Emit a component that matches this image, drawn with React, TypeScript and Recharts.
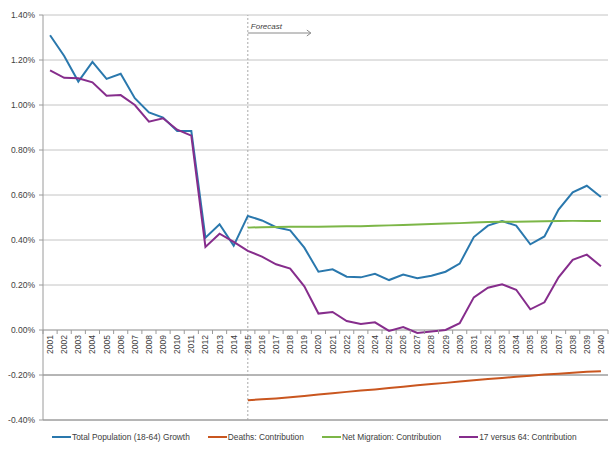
import React from 'react';
import { LineChart, Line, XAxis, YAxis, CartesianGrid, ReferenceLine } from 'recharts';

const YEARS = [
  '2001', '2002', '2003', '2004', '2005', '2006', '2007', '2008', '2009', '2010',
  '2011', '2012', '2013', '2014', '2015', '2016', '2017', '2018', '2019', '2020',
  '2021', '2022', '2023', '2024', '2025', '2026', '2027', '2028', '2029', '2030',
  '2031', '2032', '2033', '2034', '2035', '2036', '2037', '2038', '2039', '2040',
];

// % values
const TOTAL = [
  1.31, 1.218, 1.104, 1.192, 1.116, 1.139, 1.03, 0.967, 0.944, 0.884,
  0.884, 0.41, 0.47, 0.375, 0.507, 0.487, 0.457, 0.443, 0.366, 0.259,
  0.27, 0.237, 0.234, 0.25, 0.222, 0.246, 0.23, 0.241, 0.259, 0.295,
  0.413, 0.464, 0.484, 0.464, 0.381, 0.416, 0.535, 0.612, 0.641, 0.591,
];

const RATIO = [
  1.154, 1.121, 1.119, 1.101, 1.041, 1.044, 1.0, 0.926, 0.941, 0.89,
  0.864, 0.369, 0.428, 0.392, 0.352, 0.326, 0.292, 0.273, 0.194, 0.073,
  0.08, 0.04, 0.027, 0.034, -0.004, 0.013, -0.013, -0.007, 0.0, 0.03,
  0.145, 0.188, 0.203, 0.179, 0.092, 0.123, 0.234, 0.312, 0.335, 0.283,
];

// forecast-only series, 2015..2040
const MIGRATION = [
  0.455, 0.457, 0.458, 0.459, 0.459, 0.459, 0.46, 0.461, 0.461, 0.463,
  0.465, 0.467, 0.469, 0.471, 0.473, 0.475, 0.478, 0.48, 0.481, 0.481,
  0.482, 0.483, 0.484, 0.485, 0.485, 0.485,
];

const DEATHS = [
  -0.312, -0.308, -0.304, -0.299, -0.293, -0.287, -0.281, -0.275, -0.269, -0.264,
  -0.258, -0.252, -0.246, -0.24, -0.235, -0.229, -0.223, -0.218, -0.213, -0.208,
  -0.203, -0.198, -0.194, -0.19, -0.186, -0.183,
];

const Y_TICKS = [-0.4, -0.2, 0, 0.2, 0.4, 0.6, 0.8, 1.0, 1.2, 1.4];
const FORECAST_YEAR = '2015';

const SERIES = [
  { key: 'total', name: 'Total Population (18-64) Growth', color: '#2a78ad' },
  { key: 'deaths', name: 'Deaths: Contribution', color: '#c9561f' },
  { key: 'migration', name: 'Net Migration: Contribution', color: '#7cb647' },
  { key: 'ratio', name: '17 versus 64: Contribution', color: '#862d8c' },
];

const W = 609;
const H = 450;
const M = { top: 15, right: 1, bottom: 0, left: 0 };
const Y_AXIS_W = 43;
const X_AXIS_H = 30;
const PLOT_H = H - M.top - M.bottom - X_AXIS_H;
const PLOT_W = W - M.left - M.right - Y_AXIS_W;
const BAND = PLOT_W / YEARS.length;
const Y_MIN = -0.4;
const Y_MAX = 1.4;
const ZERO_Y = M.top + (PLOT_H * Y_MAX) / (Y_MAX - Y_MIN);

const FONT = '"Liberation Sans", Arial, sans-serif';

const forecastStart = YEARS.indexOf(FORECAST_YEAR);
const data = YEARS.map((year, i) => ({
  year,
  total: TOTAL[i],
  ratio: RATIO[i],
  migration: i >= forecastStart ? MIGRATION[i - forecastStart] : null,
  deaths: i >= forecastStart ? DEATHS[i - forecastStart] : null,
}));

const YearTick = (props: any) => {
  const { x, payload, index } = props;
  const last = index === YEARS.length - 1;
  return (
    <g>
      <line x1={x - BAND / 2} x2={x - BAND / 2} y1={ZERO_Y} y2={ZERO_Y + 4} stroke="#9a9a9a" />
      {last && <line x1={x + BAND / 2} x2={x + BAND / 2} y1={ZERO_Y} y2={ZERO_Y + 4} stroke="#9a9a9a" />}
      <text
        x={x}
        y={ZERO_Y + 5}
        transform={`rotate(-90, ${x}, ${ZERO_Y + 5})`}
        textAnchor="end"
        dy="0.35em"
        fontSize={8.5}
        fontFamily={FONT}
        fill="#404040"
      >
        {payload.value}
      </text>
    </g>
  );
};

const ForecastLabel = (props: any) => {
  const { x, y } = props.viewBox;
  return (
    <g>
      <text x={x + 3} y={y + 14} fontSize={8} fontStyle="italic" fontFamily={FONT} fill="#404040">
        Forecast
      </text>
      <line x1={x} x2={x + 63} y1={y + 18} y2={y + 18} stroke="#8a8a8a" />
      <path d={`M${x + 59} ${y + 15} L${x + 63} ${y + 18} L${x + 59} ${y + 21}`} fill="none" stroke="#8a8a8a" />
    </g>
  );
};

export default function App() {
  return (
    <div style={{ position: 'absolute', left: 0, top: 0, width: W, height: H, background: '#fff' }}>
      <LineChart width={W} height={H} data={data} margin={M}>
        <CartesianGrid vertical={false} stroke="#c4c4c4" />
        <XAxis
          dataKey="year"
          scale="point"
          padding={{ left: BAND / 2, right: BAND / 2 }}
          height={X_AXIS_H}
          axisLine={false}
          tickLine={false}
          interval={0}
          tick={<YearTick />}
        />
        <YAxis
          width={Y_AXIS_W}
          domain={[Y_MIN, Y_MAX]}
          ticks={Y_TICKS}
          tickFormatter={(v: number) => `${v.toFixed(2)}%`}
          axisLine={{ stroke: '#9a9a9a' }}
          tickLine={{ stroke: '#9a9a9a' }}
          tickSize={4}
          tickMargin={4}
          tick={{ fontSize: 8.5, fontFamily: FONT, fill: '#404040' }}
        />
        <ReferenceLine y={-0.2} stroke="#8a8a8a" />
        <ReferenceLine y={-0.4} stroke="#8a8a8a" />
        <ReferenceLine y={0} stroke="#a8a8a8" />
        <ReferenceLine
          x={FORECAST_YEAR}
          stroke="#a8a8a8"
          strokeDasharray="2 2"
          label={<ForecastLabel />}
        />
        {SERIES.map((s) => (
          <Line
            key={s.key}
            dataKey={s.key}
            name={s.name}
            stroke={s.color}
            strokeWidth={2}
            dot={false}
            type="linear"
            isAnimationActive={false}
          />
        ))}
      </LineChart>
      <div
        style={{
          position: 'absolute',
          left: 52,
          top: 432,
          display: 'flex',
          fontFamily: FONT,
          fontSize: 8.35,
          color: '#404040',
          whiteSpace: 'nowrap',
        }}
      >
        {SERIES.map((s) => (
          <div key={s.key} style={{ display: 'flex', alignItems: 'center', marginRight: 18 }}>
            <span style={{ display: 'inline-block', width: 19, height: 2, background: s.color, marginRight: 1 }} />
            <span>{s.name}</span>
          </div>
        ))}
      </div>
    </div>
  );
}
